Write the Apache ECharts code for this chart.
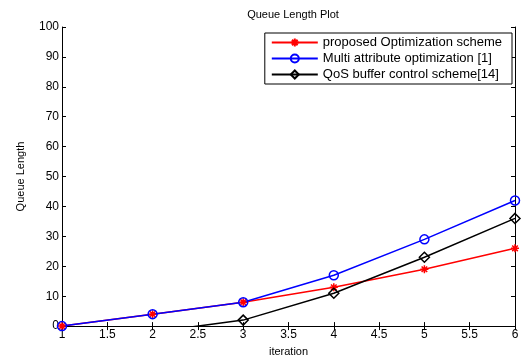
<!DOCTYPE html>
<html>
<head>
<meta charset="utf-8">
<script src="https://cdn.jsdelivr.net/npm/echarts@6/dist/echarts.min.js"></script>
<style>
  html, body { margin: 0; padding: 0; background: #fff; }
  .echarts { width: 522px; height: 362px; }
</style>
</head>
<body>
<div class="echarts"></div>
<script>
// data
var iterations = [1, 2, 3, 4, 5, 6];
var proposed = [0, 4, 8, 13, 19, 26];
var multiAttr = [0, 4, 8, 17, 29, 42];
// black line only shows from 2.5 on, value at 2 is below the axis
var qosBuffer = [null, -2, 2, 11, 23, 36];

var names = ['proposed Optimization scheme', 'Multi attribute optimization [1]', 'QoS buffer control scheme[14]'];

function pairs(vals) {
    var out = [];
    for (var i = 0; i < iterations.length; i++) {
        if (vals[i] != null) out.push([iterations[i], vals[i]]);
    }
    return out;
}

var starPath = 'path://M5,0L5,10M0,5L10,5M1.5,1.5L8.5,8.5M8.5,1.5L1.5,8.5';
var font = 'Liberation Sans';
var noFill = 'rgba(0,0,0,0)';

function myecharts() {
    var myChart = echarts.init(document.querySelector('.echarts'));
    var option = {
        animation: false,
        textStyle: { fontFamily: font },
        title: {
            text: 'Queue Length Plot',
            left: 288, top: 4, textAlign: 'center',
            textStyle: { fontSize: 11, fontWeight: 'normal', color: '#000', fontFamily: font }
        },
        legend: {
            orient: 'vertical',
            right: 10, top: 33,
            backgroundColor: '#fff',
            borderColor: '#000', borderWidth: 1, borderRadius: 0,
            padding: [3, 10, 3, 6],
            itemGap: 3,
            itemWidth: 46, itemHeight: 10,
            textStyle: { fontSize: 13, color: '#000', fontFamily: font },
            data: names
        },
        grid: { left: 62, right: 7, top: 27, bottom: 34 },
        xAxis: [{
            type: 'value', min: 1, max: 6, interval: 0.5,
            name: 'iteration', nameLocation: 'middle', nameGap: 17,
            nameTextStyle: { fontSize: 11, color: '#000' },
            axisLine: { lineStyle: { color: '#000', width: 1 } },
            axisTick: { inside: true, length: 4, lineStyle: { color: '#000' } },
            axisLabel: { color: '#000', fontSize: 12, margin: 3 },
            splitLine: { show: false }
        }, {
            type: 'value', min: 1, max: 6, interval: 0.5, position: 'top',
            axisLine: { lineStyle: { color: '#000', width: 1 } },
            axisTick: { inside: true, length: 4, lineStyle: { color: '#000' } },
            axisLabel: { show: false },
            splitLine: { show: false }
        }],
        yAxis: [{
            type: 'value', min: 0, max: 100, interval: 10,
            name: 'Queue Length', nameLocation: 'middle', nameGap: 36,
            nameTextStyle: { fontSize: 11, color: '#000' },
            axisLine: { show: true, lineStyle: { color: '#000', width: 1 } },
            axisTick: { show: true, inside: true, length: 4, lineStyle: { color: '#000' } },
            axisLabel: { color: '#000', fontSize: 12, margin: 3 },
            splitLine: { show: false }
        }, {
            type: 'value', min: 0, max: 100, interval: 10, position: 'right',
            axisLine: { show: true, lineStyle: { color: '#000', width: 1 } },
            axisTick: { show: true, inside: true, length: 4, lineStyle: { color: '#000' } },
            axisLabel: { show: false },
            splitLine: { show: false }
        }],
        series: [{
            name: names[0], type: 'line', data: pairs(proposed),
            color: '#ff0000',
            symbol: starPath, symbolSize: 8,
            itemStyle: { color: '#ff0000', borderColor: '#ff0000', borderWidth: 1.5 },
            lineStyle: { color: '#ff0000', width: 1.5 }
        }, {
            name: names[1], type: 'line', data: pairs(multiAttr),
            color: '#0000ff',
            symbol: 'circle', symbolSize: 9,
            itemStyle: { color: noFill, borderColor: '#0000ff', borderWidth: 1.5 },
            lineStyle: { color: '#0000ff', width: 1.5 }
        }, {
            name: names[2], type: 'line', data: pairs(qosBuffer),
            color: '#000',
            symbol: 'diamond', symbolSize: 10,
            clip: true,
            itemStyle: { color: noFill, borderColor: '#000', borderWidth: 1.5 },
            lineStyle: { color: '#000', width: 1.5 }
        }]
    };
    myChart.setOption(option);
}
myecharts();
</script>
</body>
</html>
